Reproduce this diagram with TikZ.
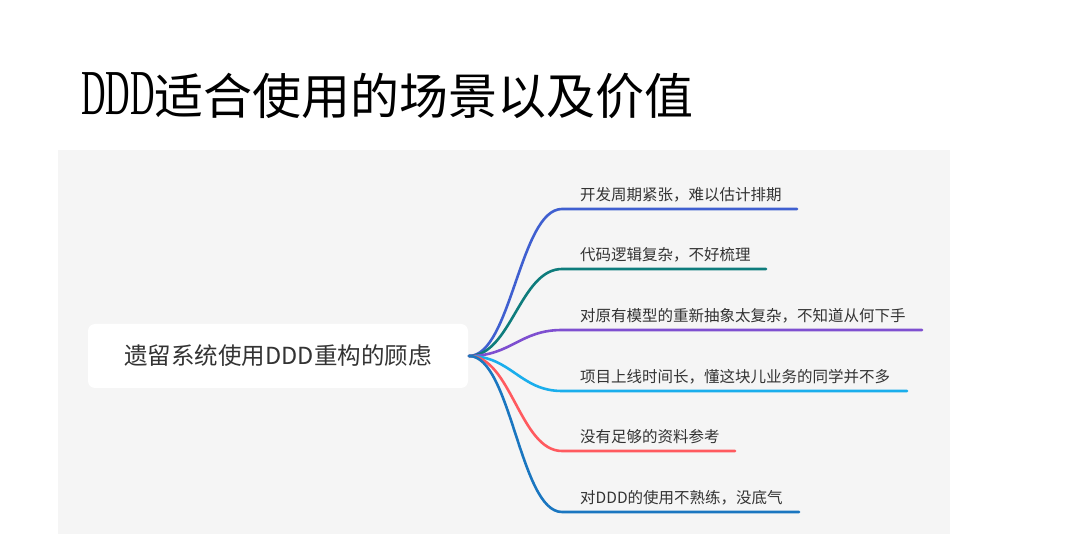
\documentclass[tikz,border=0pt]{standalone}
\usepackage{fontspec}
\setmainfont{Noto Sans CJK SC}
\newfontfamily\titlelatin{Liberation Serif}[FakeStretch=0.53]
\usepackage{tikz}
\definecolor{panel}{HTML}{F5F5F5}
\definecolor{ink}{HTML}{333333}
\definecolor{cA}{HTML}{3F5FD0}
\definecolor{cB}{HTML}{0E7C7C}
\definecolor{cC}{HTML}{7E4FD0}
\definecolor{cD}{HTML}{1AAEEC}
\definecolor{cE}{HTML}{FF5A5F}
\definecolor{cF}{HTML}{1A76C0}

\begin{document}
\begin{tikzpicture}[x=1pt,y=-1pt,
  leaf/.style={anchor=west,inner sep=0pt,text=ink,font=\fontsize{15.5}{18}\selectfont},
  branch/.style={line width=2.6pt,line cap=round}]
\useasboundingbox (0,0) rectangle (1080,534);
\fill[white] (0,0) rectangle (1080,534);
\fill[panel] (58,150) rectangle (950,534);
\node[anchor=base west,inner sep=0pt,font=\fontsize{49}{52}\selectfont] (Title) at (81,115) {{\fontsize{64}{64}\titlelatin DDD}适合使用的场景以及价值};
\node[fill=white,rounded corners=7pt,minimum width=380pt,minimum height=64pt,text=ink,font=\fontsize{23.5}{28}\selectfont] (Root) at (278,356) {遗留系统使用DDD重构的顾虑};
\node[leaf] (P1) at (580,195) {开发周期紧张，难以估计排期};
\node[leaf] (P2) at (580,255) {代码逻辑复杂，不好梳理};
\node[leaf] (P3) at (580,316) {对原有模型的重新抽象太复杂，不知道从何下手};
\node[leaf] (P4) at (580,377) {项目上线时间长，懂这块儿业务的同学并不多};
\node[leaf] (P5) at (580,437) {没有足够的资料参考};
\node[leaf] (P6) at (580,498) {对DDD的使用不熟练，没底气};
\coordinate (S) at (469,356);
\coordinate (L1) at (562,209);
\coordinate (E1) at (797,209);
\coordinate (L2) at (562,269);
\coordinate (E2) at (766,269);
\coordinate (L3) at (562,330);
\coordinate (E3) at (922,330);
\coordinate (L4) at (562,391);
\coordinate (E4) at (907,391);
\coordinate (L5) at (562,451);
\coordinate (E5) at (735,451);
\coordinate (L6) at (562,512);
\coordinate (E6) at (799,512);
\draw[branch,cA] (S) .. controls +(42,0) and +(-42,0) .. (L1) -- (E1);
\draw[branch,cB] (S) .. controls +(42,0) and +(-42,0) .. (L2) -- (E2);
\draw[branch,cC] (S) .. controls +(42,0) and +(-42,0) .. (L3) -- (E3);
\draw[branch,cD] (S) .. controls +(42,0) and +(-42,0) .. (L4) -- (E4);
\draw[branch,cE] (S) .. controls +(42,0) and +(-42,0) .. (L5) -- (E5);
\draw[branch,cF] (S) .. controls +(42,0) and +(-42,0) .. (L6) -- (E6);
\end{tikzpicture}
\end{document}
